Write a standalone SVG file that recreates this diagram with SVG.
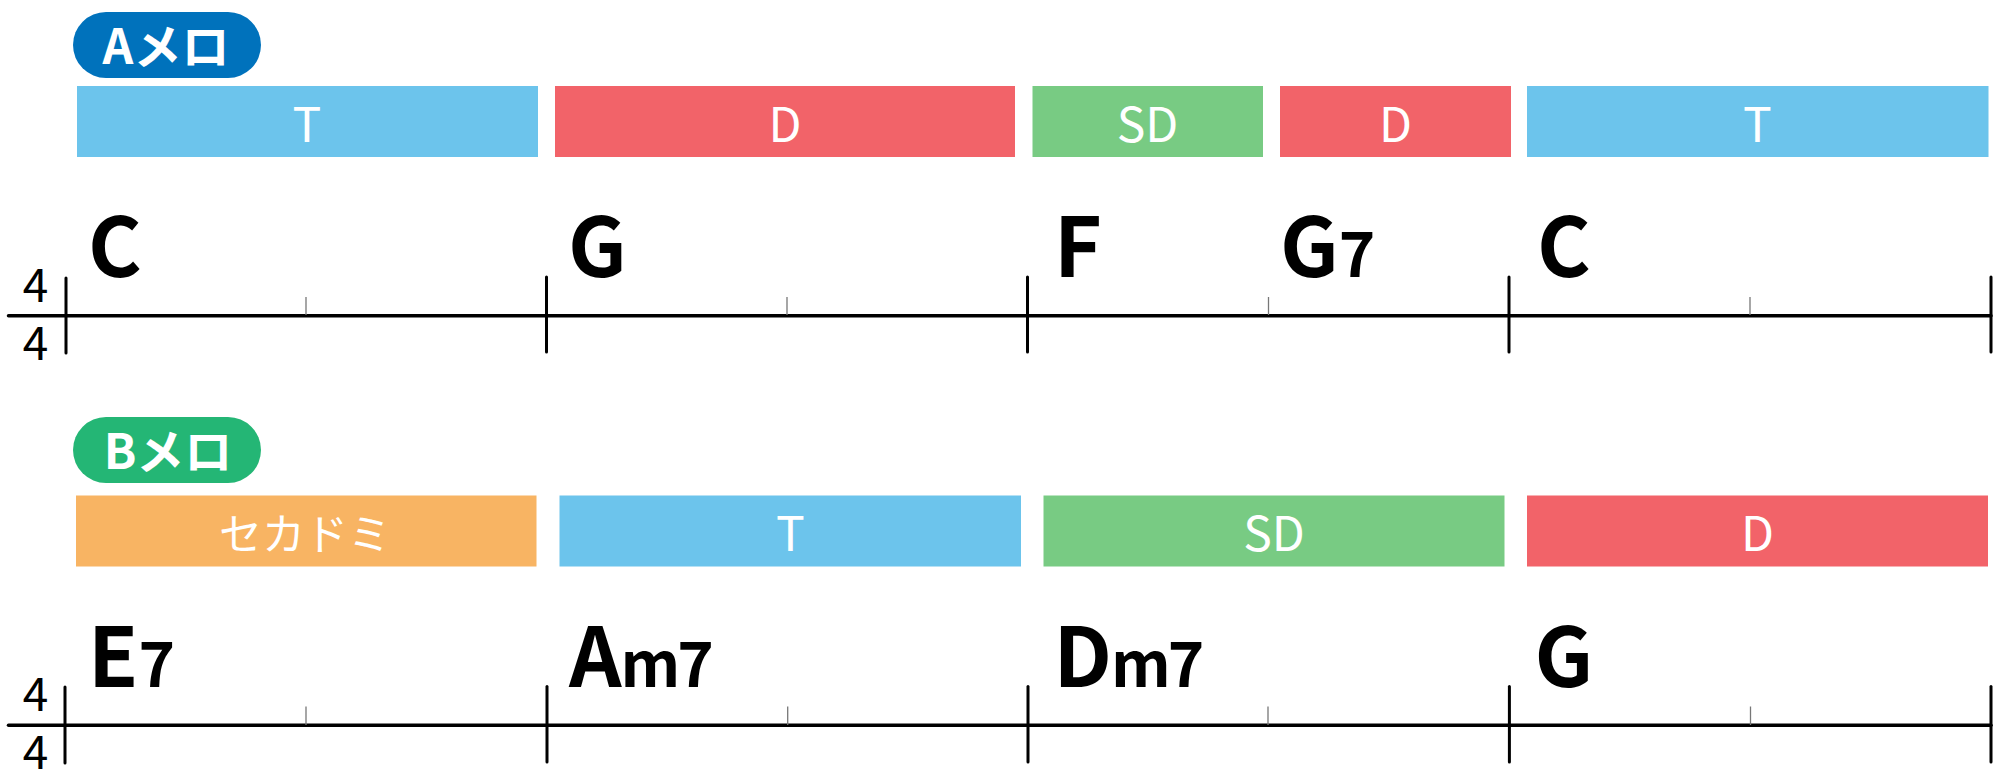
<svg xmlns="http://www.w3.org/2000/svg" width="2000" height="778" viewBox="0 0 2000 778">
<style>
.pill-t{font-family:"Noto Sans CJK JP","Noto Sans",sans-serif;font-weight:700;font-size:48px;fill:#fff;text-anchor:middle}
.lbl{font-family:"Noto Sans CJK JP","Noto Sans",sans-serif;font-weight:400;font-size:48px;fill:#fff;text-anchor:middle}
.kana{font-family:"Noto Sans CJK JP",sans-serif;font-weight:400;font-size:43px;fill:#fff;text-anchor:middle}
.chord{font-family:"Noto Sans CJK JP","Noto Sans",sans-serif;font-weight:700;font-size:82px;fill:#000}
.sfx{font-size:62px;letter-spacing:-3px}
.ts{font-family:"Noto Sans CJK JP","Noto Sans",sans-serif;font-weight:400;font-size:46px;fill:#000;text-anchor:middle}
.staff{stroke:#000;stroke-width:3.5;stroke-linecap:round;fill:none}
.bar{stroke:#000;stroke-width:3;stroke-linecap:round;fill:none}
.tick{stroke:#777;stroke-width:1.3;fill:none}
.T{fill:#6CC4EC}.D{fill:#F26369}.SD{fill:#78CB83}.O{fill:#F8B463}
</style>

<!-- Row A -->
<g id="pill-a"><rect x="73" y="12" width="188" height="66" rx="33" fill="#0072BC"/><text class="pill-t" x="166" y="64">Aメロ</text></g>
<g id="a-box1"><rect class="T" x="77" y="86" width="461" height="71"/><text class="lbl" x="307" y="141.5">T</text></g>
<g id="a-box2"><rect class="D" x="555" y="86" width="460" height="71"/><text class="lbl" x="785" y="141.5">D</text></g>
<g id="a-box3"><rect class="SD" x="1032.5" y="86" width="230.5" height="71"/><text class="lbl" x="1147.5" y="141.5">SD</text></g>
<g id="a-box4"><rect class="D" x="1280" y="86" width="231" height="71"/><text class="lbl" x="1395.5" y="141.5">D</text></g>
<g id="a-box5"><rect class="T" x="1527" y="86" width="461.5" height="71"/><text class="lbl" x="1757.5" y="141.5">T</text></g>

<g id="a-timesig"><text class="ts" x="35.5" y="301.5">4</text><text class="ts" x="35.5" y="360">4</text></g>
<g id="a-chord1"><text class="chord" x="88" y="277">C</text></g>
<g id="a-chord2"><text class="chord" x="568" y="277">G</text></g>
<g id="a-chord3"><text class="chord" x="1054" y="277">F</text></g>
<g id="a-chord4"><text class="chord" x="1280" y="277">G<tspan class="sfx">7</tspan></text></g>
<g id="a-chord5"><text class="chord" x="1537" y="277">C</text></g>

<!-- Row B -->
<g id="pill-b"><rect x="73" y="417" width="188" height="66" rx="33" fill="#24B675"/><text class="pill-t" x="168" y="469">Bメロ</text></g>
<g id="b-box1"><rect class="O" x="76" y="495.5" width="460.5" height="71"/><text class="kana" x="305" y="550">セカドミ</text></g>
<g id="b-box2"><rect class="T" x="559.5" y="495.5" width="461.5" height="71"/><text class="lbl" x="790.5" y="551">T</text></g>
<g id="b-box3"><rect class="SD" x="1043.5" y="495.5" width="461" height="71"/><text class="lbl" x="1274" y="551">SD</text></g>
<g id="b-box4"><rect class="D" x="1527" y="495.5" width="461" height="71"/><text class="lbl" x="1757.5" y="551">D</text></g>

<g id="b-timesig"><text class="ts" x="35.5" y="711">4</text><text class="ts" x="35.5" y="769">4</text></g>
<g id="b-chord1"><text class="chord" x="88" y="687">E<tspan class="sfx">7</tspan></text></g>
<g id="b-chord2"><text class="chord" x="569" y="687">A<tspan class="sfx" dx="-1">m7</tspan></text></g>
<g id="b-chord3"><text class="chord" x="1053.5" y="687">D<tspan class="sfx" dx="-1">m7</tspan></text></g>
<g id="b-chord4"><text class="chord" x="1534.5" y="687">G</text></g>

<!-- Staff lines -->
<g id="connectors">
<line class="staff" x1="8.5" y1="315.7" x2="1991" y2="315.7"/>
<line class="bar" x1="66" y1="278" x2="66" y2="353"/>
<line class="bar" x1="546.5" y1="277" x2="546.5" y2="352"/>
<line class="bar" x1="1027.5" y1="277" x2="1027.5" y2="352"/>
<line class="bar" x1="1509" y1="277" x2="1509" y2="352"/>
<line class="bar" x1="1991" y1="277" x2="1991" y2="352"/>
<line class="tick" x1="306" y1="297" x2="306" y2="315"/>
<line class="tick" x1="787" y1="297" x2="787" y2="315"/>
<line class="tick" x1="1268.5" y1="297" x2="1268.5" y2="315"/>
<line class="tick" x1="1750" y1="297" x2="1750" y2="315"/>

<line class="staff" x1="8.5" y1="725.3" x2="1991" y2="725.3"/>
<line class="bar" x1="65" y1="687" x2="65" y2="763"/>
<line class="bar" x1="547" y1="686.5" x2="547" y2="762"/>
<line class="bar" x1="1028" y1="686.5" x2="1028" y2="762"/>
<line class="bar" x1="1509.4" y1="686.5" x2="1509.4" y2="762"/>
<line class="bar" x1="1991" y1="686.5" x2="1991" y2="762"/>
<line class="tick" x1="306" y1="706.5" x2="306" y2="725"/>
<line class="tick" x1="787.7" y1="706.5" x2="787.7" y2="725"/>
<line class="tick" x1="1268" y1="706.5" x2="1268" y2="725"/>
<line class="tick" x1="1750.5" y1="706.5" x2="1750.5" y2="725"/>
</g>
</svg>
